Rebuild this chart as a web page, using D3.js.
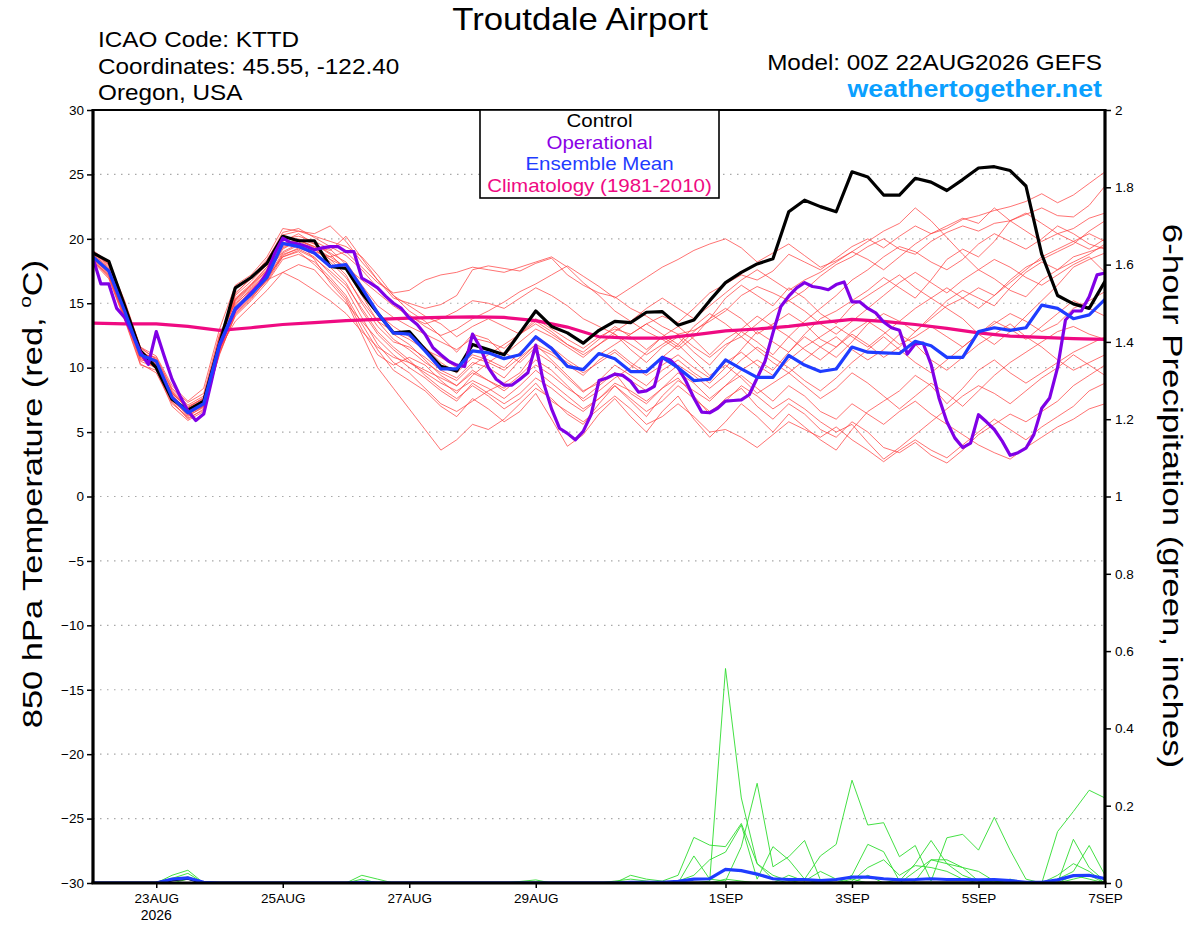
<!DOCTYPE html>
<html lang="en">
<head>
<meta charset="utf-8">
<script src="https://d3js.org/d3.v7.min.js"></script>
<style>
  body { margin: 0; background: #fff; }
  svg text { font-family: "Liberation Sans", Arial, sans-serif; }
  .tick text { font-size: 13.5px; fill: #000; }
  .tick line { stroke: #000; stroke-width: 1.5; }
</style>
</head>
<body>
<script>
// 6-hourly steps from 00Z 22AUG2026 (index 0) to 00Z 07SEP2026 (index 64)
const dateLabels = ["23AUG", "25AUG", "27AUG", "29AUG", "1SEP", "3SEP", "5SEP", "7SEP"];
const dateIndex = [4, 12, 20, 28, 40, 48, 56, 64];
const tempTicks = [-30, -25, -20, -15, -10, -5, 0, 5, 10, 15, 20, 25, 30];
const precipTicks = [0, 0.2, 0.4, 0.6, 0.8, 1, 1.2, 1.4, 1.6, 1.8, 2];

const control = [18.9, 18.25, 14.8, 11.3, 10.0, 7.55, 6.7, 7.4, 11.85, 16.2,
  17.0, 18.1, 20.2, 19.85, 19.85, 17.85, 17.7, 15.8, 14.25, 12.7,
  12.8, 11.4, 10.1, 9.75, 11.8, 11.4, 11.0, 12.7, 14.4, 13.2,
  12.7, 11.9, 12.9, 13.6, 13.5, 14.3, 14.35, 13.3, 13.7, 15.2,
  16.6, 17.4, 18.05, 18.45, 22.1, 23.0, 22.5, 22.1, 25.2, 24.8,
  23.4, 23.4, 24.7, 24.4, 23.75, 24.6, 25.5, 25.6, 25.3, 24.1,
  18.8, 15.6, 14.95, 14.6, 16.7];

const ensMean = [18.6, 17.5, 14.4, 11.0, 10.5, 7.7, 6.5, 7.2, 11.8, 14.6,
  15.7, 17.0, 19.65, 19.4, 18.9, 17.85, 18.0, 16.2, 14.25, 12.7,
  12.6, 11.3, 9.9, 9.9, 11.3, 11.15, 10.7, 11.0, 12.4, 11.5,
  10.1, 9.85, 11.1, 10.7, 9.7, 9.7, 10.8, 10.0, 9.0, 9.1,
  10.6, 9.9, 9.25, 9.25, 10.95, 10.2, 9.7, 9.9, 11.6, 11.2,
  11.15, 11.1, 12.05, 11.7, 10.8, 10.8, 12.8, 13.1, 12.9, 13.1,
  14.85, 14.6, 13.8, 14.1, 15.3];

// operational run is 3-hourly (129 values)
const operational = [18.5, 16.5, 16.5, 14.6, 13.9, 12.6, 11.2, 10.25, 12.8, 10.9,
  9.1, 7.8, 6.65, 5.9, 6.4, 9.0, 11.7, 13.1, 14.5, 15.15,
  15.8, 16.45, 17.35, 18.9, 20.05, 19.7, 19.6, 19.4, 19.15, 19.3,
  19.4, 19.4, 19.0, 19.0, 16.95, 16.6, 16.2, 15.55, 15.0, 14.6,
  13.85, 13.35, 12.6, 11.55, 11.0, 10.5, 10.2, 10.1, 12.6, 11.55,
  10.0, 9.1, 8.65, 8.65, 9.1, 9.6, 11.75, 8.8, 6.8, 5.3,
  4.9, 4.4, 5.05, 6.35, 9.0, 9.2, 9.5, 9.4, 8.95, 8.1,
  8.2, 8.55, 10.8, 10.6, 10.0, 8.95, 7.65, 6.55, 6.5, 6.85,
  7.4, 7.45, 7.5, 7.9, 9.2, 10.5, 12.7, 14.75, 15.55, 16.2,
  16.6, 16.3, 16.2, 16.05, 16.45, 16.65, 15.1, 15.1, 14.6, 14.25,
  13.55, 13.1, 12.9, 11.05, 11.85, 11.9, 10.25, 7.65, 5.8, 4.55,
  3.8, 4.15, 6.35, 5.8, 5.2, 4.3, 3.2, 3.4, 3.75, 4.8,
  6.85, 7.65, 10.0, 13.7, 14.4, 14.4, 15.5, 17.2, 17.35];

// climatology, 12-hourly (33 values)
const climatology = [13.45, 13.4, 13.4, 13.2, 12.9, 13.1, 13.35, 13.5, 13.65, 13.75,
  13.85, 13.9, 13.95, 13.9, 13.65, 13.15, 12.4, 12.3, 12.3, 12.55,
  12.85, 13.0, 13.2, 13.5, 13.75, 13.6, 13.35, 13.05, 12.7, 12.45,
  12.35, 12.25, 12.2];

const members = [
  [18.8, 17.8, 14.6, 11.2, 10.0, 7.9, 6.6, 7.0, 12.2, 15.4, 16.5, 17.8, 19.8, 20.4, 19.6, 18.9, 18.2, 16.4, 14.8, 13.9, 13.2, 12.6, 12.0, 11.4, 12.3, 12.0, 11.5, 12.6, 13.8, 13.0, 12.2, 11.5, 12.4, 13.0, 12.6, 13.4, 14.0, 13.5, 14.6, 15.8, 16.5, 17.2, 16.8, 17.5, 18.8, 18.2, 17.6, 18.5, 19.4, 20.0, 19.3, 20.2, 21.0, 20.4, 20.8, 21.5, 21.8, 22.2, 22.5, 22.9, 23.5, 22.8, 23.4, 24.3, 25.2],
  [18.5, 17.2, 14.0, 10.6, 10.4, 7.4, 6.0, 6.8, 11.4, 14.8, 15.9, 17.2, 19.2, 19.9, 19.4, 19.1, 20.2, 18.5, 16.8, 15.4, 15.0, 14.6, 14.9, 15.6, 17.6, 17.9, 17.7, 17.5, 18.1, 18.5, 17.2, 16.4, 15.8, 15.5, 14.6, 14.0, 13.2, 12.6, 12.9, 13.6, 14.4, 15.6, 16.3, 15.8, 15.2, 16.0, 17.1, 18.0, 18.6, 19.4, 20.0, 19.2, 18.8, 19.8, 20.5, 21.0, 20.6, 21.2, 21.4, 21.9, 22.4, 21.8, 21.7, 22.6, 24.1],
  [19.0, 18.0, 15.0, 11.4, 10.2, 8.1, 7.0, 7.6, 12.4, 15.8, 16.9, 18.3, 20.5, 20.8, 20.1, 19.4, 18.7, 17.6, 16.2, 15.0, 14.1, 13.2, 12.5, 13.0, 13.8, 14.4, 15.1, 15.9, 16.5, 17.2, 17.9, 17.1, 16.3, 15.4, 16.2, 17.0, 17.8, 18.4, 19.1, 19.6, 20.0, 19.3, 18.2, 18.9, 19.6, 18.7, 17.8, 18.3, 19.0, 19.8, 20.6, 21.2, 22.4, 21.4, 20.1, 18.8, 17.6, 16.9, 16.0, 15.5, 16.8, 17.6, 18.2, 18.8, 19.6],
  [18.3, 17.0, 13.8, 10.3, 9.6, 7.2, 6.2, 7.0, 11.0, 14.2, 15.4, 16.8, 18.8, 19.2, 18.6, 17.3, 16.1, 13.9, 11.8, 10.4, 9.6, 8.4, 7.2, 6.6, 7.4, 8.2, 8.8, 9.6, 11.2, 10.4, 9.2, 8.1, 9.0, 10.2, 9.4, 8.6, 9.8, 10.6, 9.6, 8.8, 10.0, 11.4, 12.8, 12.0, 11.2, 12.6, 13.8, 14.4, 15.2, 16.0, 17.0, 16.2, 15.4, 16.8, 18.4, 19.2, 18.6, 19.8, 21.4, 22.0, 21.2, 20.4, 19.8, 19.2, 20.0],
  [18.7, 17.6, 14.3, 11.1, 10.8, 8.4, 7.3, 8.0, 12.6, 15.0, 16.0, 17.4, 19.0, 19.6, 19.2, 18.4, 17.2, 15.0, 13.2, 12.0, 11.6, 10.8, 9.8, 9.2, 10.4, 10.0, 9.2, 10.6, 11.8, 10.6, 9.4, 8.2, 8.8, 9.6, 8.0, 7.2, 8.4, 9.2, 7.8, 6.4, 7.6, 8.4, 7.0, 6.0, 7.2, 6.4, 5.2, 4.6, 5.8, 5.0, 3.8, 3.4, 4.2, 3.2, 2.6, 3.6, 4.8, 5.6, 6.4, 5.8, 6.6, 7.4, 8.6, 9.4, 10.2],
  [18.9, 17.9, 14.9, 11.6, 10.6, 8.2, 6.8, 7.3, 11.9, 15.2, 16.3, 17.6, 19.4, 19.8, 18.4, 16.6, 15.2, 12.6, 10.0, 8.4, 6.8, 5.2, 3.6, 4.4, 5.6, 5.2, 6.0, 7.2, 8.4, 7.6, 6.4, 5.6, 7.2, 8.6, 7.4, 6.2, 7.8, 9.0, 8.2, 7.4, 8.6, 9.8, 10.6, 9.8, 11.2, 12.4, 11.6, 10.8, 12.0, 13.4, 14.2, 13.6, 12.8, 14.0, 15.2, 16.0, 15.4, 14.8, 16.2, 17.4, 18.2, 17.6, 18.6, 19.0, 19.4],
  [18.4, 17.4, 14.2, 10.8, 10.2, 7.6, 6.4, 7.1, 11.6, 14.6, 15.8, 17.0, 18.9, 19.5, 19.0, 18.6, 19.0, 17.8, 16.6, 15.8, 16.0, 16.8, 17.2, 17.4, 17.8, 17.6, 17.4, 17.8, 18.2, 18.6, 17.8, 16.6, 15.6, 14.4, 13.6, 12.8, 12.2, 11.4, 12.4, 13.8, 14.6, 13.8, 12.6, 13.4, 14.2, 13.4, 12.2, 11.6, 12.8, 13.6, 12.8, 11.8, 12.4, 13.2, 12.4, 11.6, 12.6, 13.4, 14.2, 13.6, 12.8, 13.4, 14.6, 15.2, 15.9],
  [18.6, 17.5, 14.5, 11.0, 10.1, 7.8, 6.7, 7.4, 12.0, 15.6, 16.7, 18.0, 20.0, 20.2, 19.8, 19.2, 18.0, 16.2, 14.2, 12.6, 11.8, 10.6, 9.4, 8.6, 9.8, 9.0, 8.4, 9.4, 10.6, 9.8, 8.6, 7.4, 8.2, 9.2, 10.0, 11.2, 12.4, 11.6, 12.8, 13.8, 15.4, 16.4, 15.6, 14.8, 16.2, 15.4, 14.2, 13.4, 14.8, 15.6, 16.4, 17.2, 16.2, 15.4, 14.6, 13.8, 12.6, 11.8, 12.8, 14.0, 15.2, 16.4, 17.8, 18.4, 18.9],
  [18.2, 16.9, 13.7, 10.2, 9.8, 7.0, 5.9, 6.6, 11.2, 14.0, 15.2, 16.6, 18.4, 18.8, 18.2, 17.0, 15.6, 13.4, 11.4, 9.8, 9.0, 8.2, 7.0, 6.2, 7.6, 6.8, 5.8, 6.6, 8.0, 6.0, 3.9, 4.8, 6.4, 7.6, 6.2, 5.0, 6.6, 7.8, 6.0, 4.6, 5.8, 7.2, 6.2, 5.0, 6.4, 5.4, 4.4, 3.6, 5.2, 6.6, 7.4, 8.2, 9.4, 8.6, 7.2, 8.4, 9.8, 10.6, 9.6, 8.8, 9.6, 10.4, 11.2, 11.8, 12.4],
  [19.1, 18.2, 15.2, 11.6, 10.9, 8.6, 7.4, 8.4, 13.0, 16.4, 17.2, 18.6, 20.8, 20.6, 20.2, 19.8, 19.4, 18.6, 17.2, 15.6, 14.4, 13.6, 12.4, 11.2, 12.6, 12.2, 11.0, 12.0, 13.0, 12.4, 11.6, 10.8, 11.8, 12.6, 11.4, 10.4, 11.6, 12.4, 11.2, 10.2, 11.6, 12.8, 12.0, 11.0, 12.4, 13.6, 14.6, 15.6, 16.8, 17.6, 18.6, 19.4, 19.0, 18.2, 17.6, 18.4, 19.6, 20.4, 19.8, 19.2, 20.0, 21.0, 20.4, 19.6, 19.2],
  [18.5, 17.3, 14.1, 10.9, 9.9, 7.5, 6.3, 6.9, 11.3, 14.4, 15.6, 17.0, 18.6, 19.0, 18.0, 16.8, 15.4, 13.0, 11.0, 10.2, 10.8, 10.2, 9.0, 8.0, 9.4, 10.4, 11.2, 10.4, 11.6, 11.0, 10.2, 9.4, 10.6, 11.4, 10.4, 9.6, 10.8, 11.8, 10.6, 9.4, 10.2, 9.2, 8.0, 8.8, 9.6, 8.6, 7.6, 8.4, 9.6, 8.8, 7.8, 6.8, 7.8, 8.8, 8.0, 7.0, 8.2, 9.4, 10.4, 11.2, 12.0, 12.8, 13.2, 12.6, 12.2],
  [18.8, 17.7, 14.7, 11.3, 10.5, 8.0, 6.9, 7.7, 12.3, 15.1, 16.2, 17.5, 19.6, 20.0, 19.6, 18.8, 17.6, 15.6, 13.6, 12.8, 12.2, 11.4, 10.8, 10.0, 11.0, 10.6, 10.0, 11.2, 12.2, 11.6, 10.6, 9.8, 11.0, 11.8, 12.6, 13.4, 12.6, 11.8, 13.2, 14.2, 13.4, 12.4, 11.4, 10.4, 9.6, 10.6, 11.6, 12.4, 11.4, 10.6, 11.4, 12.6, 11.8, 10.6, 9.8, 10.8, 11.8, 12.6, 13.4, 12.4, 11.6, 10.6, 9.8, 10.4, 11.0],
  [18.6, 17.4, 14.4, 11.0, 10.3, 7.7, 6.5, 7.3, 11.7, 14.9, 16.1, 17.3, 19.3, 19.8, 19.2, 18.2, 17.0, 15.2, 13.6, 12.2, 11.4, 10.4, 9.6, 9.0, 10.2, 11.0, 11.8, 12.6, 13.6, 12.8, 11.8, 11.0, 11.8, 12.8, 13.6, 14.6, 15.4, 14.6, 13.8, 14.8, 15.8, 16.8, 17.6, 16.8, 16.0, 16.8, 17.4, 18.2, 19.0, 18.4, 17.6, 18.6, 19.6, 20.4, 21.0, 21.6, 21.2, 22.4, 21.4, 20.6, 19.8, 20.4, 20.8, 21.6, 22.0],
  [18.4, 17.1, 13.9, 10.5, 10.0, 7.3, 6.1, 6.7, 11.1, 14.1, 15.3, 16.9, 18.7, 19.3, 18.8, 17.8, 16.6, 14.4, 12.6, 11.4, 10.4, 9.6, 8.8, 8.2, 9.0, 8.4, 7.6, 8.6, 9.8, 8.8, 7.8, 6.8, 7.6, 8.8, 8.2, 7.4, 8.4, 9.6, 8.8, 7.6, 8.6, 9.4, 8.4, 7.4, 8.6, 7.8, 6.6, 6.0, 7.2, 6.4, 5.6, 6.6, 7.4, 6.4, 5.6, 4.8, 4.0, 3.4, 2.9, 3.8, 4.6, 5.4, 6.0, 6.8, 7.2],
  [19.0, 18.1, 15.1, 11.5, 10.7, 8.3, 7.1, 7.8, 12.1, 14.6, 15.7, 16.8, 17.4, 18.0, 17.6, 16.2, 15.0, 13.6, 12.2, 11.0, 10.0, 9.2, 8.2, 7.4, 8.8, 8.0, 7.2, 8.0, 9.2, 8.4, 7.4, 6.6, 7.6, 8.6, 7.6, 6.6, 7.4, 8.6, 7.6, 6.6, 7.4, 8.6, 7.8, 6.8, 7.6, 6.8, 5.8, 5.0, 5.6, 4.2, 2.9, 3.8, 4.8, 5.8, 6.8, 7.8, 8.6, 8.0, 7.2, 8.2, 9.2, 10.0, 11.0, 10.2, 9.4],
  [18.9, 18.0, 14.8, 11.4, 10.4, 8.0, 6.9, 7.6, 12.0, 15.7, 17.0, 18.4, 20.3, 20.6, 20.4, 21.0, 19.8, 18.2, 16.8, 15.6, 14.8, 14.0, 13.4, 12.4, 13.2, 13.8, 13.2, 12.6, 13.4, 12.6, 11.8, 11.2, 12.2, 13.2, 12.4, 11.4, 12.4, 13.2, 12.2, 11.0, 12.2, 13.0, 14.0, 13.2, 12.4, 11.4, 10.6, 11.6, 12.6, 11.8, 10.8, 11.6, 12.8, 13.8, 14.8, 15.4, 16.2, 15.6, 16.8, 17.8, 18.4, 19.0, 19.6, 20.6, 21.4],
  [18.3, 17.1, 14.0, 10.7, 10.0, 7.5, 6.3, 7.2, 11.5, 13.6, 14.8, 16.0, 17.4, 16.8, 16.0, 15.2, 14.2, 12.8, 11.6, 10.8, 10.4, 9.8, 9.2, 8.6, 9.6, 9.0, 8.2, 9.2, 10.2, 9.4, 8.4, 7.6, 8.6, 9.6, 9.0, 8.2, 9.2, 10.2, 9.4, 8.4, 9.4, 10.6, 11.6, 10.8, 10.0, 9.0, 8.2, 9.2, 10.4, 11.4, 12.4, 11.4, 10.4, 9.6, 10.6, 11.6, 12.6, 13.6, 13.0, 12.2, 13.2, 14.2, 15.2, 14.6, 14.0],
  [18.7, 17.6, 14.6, 11.2, 10.6, 7.8, 6.6, 7.5, 12.4, 15.3, 16.4, 17.8, 19.6, 19.9, 19.4, 18.4, 17.8, 16.8, 15.8, 14.8, 14.0, 13.4, 13.8, 14.4, 15.2, 15.0, 14.6, 15.4, 16.2, 15.6, 14.8, 13.8, 13.2, 12.6, 11.8, 11.0, 11.8, 12.6, 11.6, 10.8, 11.8, 12.4, 13.4, 14.4, 15.2, 14.4, 13.4, 12.6, 13.6, 14.6, 15.6, 16.6, 17.4, 16.6, 15.8, 16.8, 17.6, 18.4, 17.8, 17.0, 16.4, 17.2, 18.0, 18.6, 17.4],
  [18.5, 17.4, 14.2, 10.8, 10.1, 7.6, 6.4, 7.0, 11.4, 14.3, 15.5, 16.7, 18.6, 19.1, 18.5, 17.5, 16.4, 14.6, 12.8, 11.6, 10.6, 9.4, 8.4, 7.6, 8.6, 7.8, 6.8, 7.6, 8.8, 7.4, 6.6, 5.8, 6.8, 7.8, 6.8, 5.6, 6.2, 7.2, 6.2, 5.0, 5.2, 4.6, 3.8, 4.8, 5.8, 5.2, 4.6, 5.4, 4.4, 3.6, 2.7, 3.6, 4.4, 3.6, 3.0, 4.0, 5.0, 6.0, 5.2, 4.4, 5.4, 6.2, 7.0, 8.2, 8.8],
  [18.6, 17.6, 14.5, 11.1, 10.4, 8.0, 6.8, 7.5, 12.1, 15.3, 16.4, 17.6, 19.5, 19.9, 19.3, 18.6, 17.8, 16.0, 14.2, 13.2, 12.4, 11.6, 10.4, 9.6, 10.8, 10.4, 9.8, 10.8, 11.8, 11.2, 10.4, 9.6, 10.4, 11.2, 10.2, 9.4, 10.2, 11.0, 10.0, 9.2, 10.4, 11.2, 10.2, 9.4, 10.6, 11.6, 12.4, 13.2, 12.4, 11.6, 12.6, 13.6, 14.6, 15.4, 16.2, 15.4, 14.6, 15.6, 16.6, 17.6, 18.6, 19.2, 19.8, 20.4, 19.8]
];

// 6-hour precipitation, inches
const precipMembers = [
  [0, 0, 0, 0, 0, 0.02, 0.033, 0, 0, 0, 0, 0, 0, 0, 0, 0, 0, 0, 0, 0, 0, 0, 0, 0, 0, 0, 0, 0, 0, 0, 0, 0, 0, 0.005, 0.01, 0.005, 0, 0, 0, 0.005, 0.555, 0.22, 0.05, 0.01, 0, 0, 0, 0, 0.01, 0, 0, 0, 0, 0, 0, 0, 0, 0, 0, 0, 0, 0, 0.01, 0.02, 0],
  [0, 0, 0, 0, 0, 0.012, 0.025, 0, 0, 0, 0, 0, 0, 0, 0, 0, 0, 0.02, 0.01, 0, 0, 0, 0, 0, 0, 0, 0, 0, 0, 0, 0, 0, 0, 0, 0.02, 0.01, 0.005, 0.02, 0.118, 0.098, 0.094, 0.154, 0.05, 0.02, 0.005, 0.01, 0, 0, 0.02, 0.1, 0.081, 0.005, 0.05, 0.11, 0.05, 0.04, 0.03, 0.005, 0, 0, 0, 0.02, 0.05, 0.03, 0],
  [0, 0, 0, 0, 0, 0.008, 0.015, 0, 0, 0, 0, 0, 0, 0, 0, 0, 0, 0.01, 0, 0, 0, 0, 0, 0, 0, 0, 0, 0, 0, 0, 0, 0, 0, 0, 0, 0, 0, 0, 0.07, 0.01, 0.005, 0.094, 0.258, 0.042, 0.068, 0.11, 0.008, 0, 0, 0.02, 0, 0, 0.03, 0.06, 0.06, 0.04, 0.005, 0, 0, 0, 0, 0, 0.113, 0.04, 0.005],
  [0, 0, 0, 0, 0, 0, 0.01, 0, 0, 0, 0, 0, 0, 0, 0, 0, 0, 0, 0, 0, 0, 0, 0, 0, 0, 0, 0, 0.004, 0.008, 0, 0, 0, 0, 0, 0, 0, 0, 0.005, 0.02, 0.06, 0.08, 0.15, 0.01, 0.094, 0.06, 0.01, 0, 0, 0.005, 0.04, 0.06, 0.02, 0.045, 0.04, 0.03, 0.01, 0, 0.005, 0, 0, 0, 0.01, 0.03, 0.097, 0.02],
  [0, 0, 0, 0, 0, 0, 0, 0, 0, 0, 0, 0, 0, 0, 0, 0, 0, 0, 0, 0, 0, 0, 0, 0, 0, 0, 0, 0, 0, 0, 0, 0, 0, 0, 0, 0, 0, 0, 0, 0, 0, 0, 0, 0, 0, 0.01, 0.07, 0.1, 0.266, 0.15, 0.156, 0.068, 0.097, 0.005, 0.117, 0.126, 0.085, 0.17, 0.085, 0.01, 0, 0.133, 0.185, 0.24, 0.22],
  [0, 0, 0, 0, 0, 0, 0, 0, 0, 0, 0, 0, 0, 0, 0, 0, 0, 0, 0, 0, 0, 0, 0, 0, 0, 0, 0, 0, 0, 0, 0, 0, 0, 0, 0, 0, 0, 0, 0, 0, 0.01, 0.005, 0, 0, 0.02, 0.005, 0.03, 0.01, 0, 0, 0, 0.01, 0.005, 0.06, 0.05, 0.02, 0.005, 0, 0.01, 0, 0, 0, 0.02, 0.01, 0]
];

const precipMean = [0, 0, 0, 0, 0, 0.01, 0.013, 0.002, 0, 0,
  0, 0, 0, 0, 0, 0, 0, 0.002, 0, 0,
  0, 0, 0, 0, 0, 0, 0, 0, 0, 0,
  0, 0, 0, 0, 0.002, 0.002, 0.002, 0.004, 0.01, 0.011,
  0.035, 0.032, 0.023, 0.011, 0.009, 0.009, 0.006, 0.009, 0.015, 0.015,
  0.011, 0.008, 0.009, 0.011, 0.009, 0.009, 0.008, 0.009, 0.006, 0.002,
  0.002, 0.008, 0.019, 0.02, 0.011];

const precipControl = [0, 0, 0, 0, 0, 0.008, 0.012, 0, 0, 0,
  0, 0, 0, 0, 0, 0, 0, 0, 0, 0,
  0, 0, 0, 0, 0, 0, 0, 0, 0, 0,
  0, 0, 0, 0, 0, 0, 0, 0, 0, 0,
  0, 0, 0, 0, 0, 0, 0, 0, 0, 0,
  0, 0, 0, 0, 0, 0, 0, 0, 0, 0,
  0, 0, 0, 0, 0];

const W = 1200, H = 927;
const plotL = 93, plotR = 1105, plotT = 110, plotB = 883;

const svg = d3.select("body").append("svg")
  .attr("width", W).attr("height", H);

// text drawn a little wider than the font, like the original plot's lettering
function wideText(x0, y0, txt, size, sx, anchor) {
  return svg.append("text")
    .attr("transform", `translate(${x0},${y0}) scale(${sx},1)`)
    .attr("text-anchor", anchor || "start")
    .attr("font-size", size)
    .text(txt);
}

const x = d3.scaleLinear().domain([0, 64]).range([plotL, plotR]);
const yT = d3.scaleLinear().domain([-30, 30]).range([plotB, plotT]);
const yP = d3.scaleLinear().domain([0, 2]).range([plotB, plotT]);

svg.append("clipPath").attr("id", "plot")
  .append("rect").attr("x", plotL).attr("y", plotT)
  .attr("width", plotR - plotL).attr("height", plotB - plotT);

// dotted grid
svg.append("g").selectAll("line")
  .data(tempTicks.filter(d => d > -30 && d < 30))
  .enter().append("line")
  .attr("x1", plotL).attr("x2", plotR)
  .attr("y1", d => yT(d)).attr("y2", d => yT(d))
  .attr("stroke", "#a8a8a8").attr("stroke-width", 1.2)
  .attr("stroke-dasharray", "1.5,5.5");

const plot = svg.append("g").attr("clip-path", "url(#plot)");

const tLine = d3.line().x((d, i) => x(i)).y(d => yT(d));
const pLine = d3.line().x((d, i) => x(i)).y(d => yP(d));

plot.selectAll(".member").data(members).enter().append("path")
  .attr("class", "member")
  .attr("d", tLine)
  .attr("fill", "none").attr("stroke", "#ff3c3c")
  .attr("stroke-width", 0.85).attr("stroke-opacity", 0.85);

plot.selectAll(".pmember").data(precipMembers).enter().append("path")
  .attr("class", "pmember")
  .attr("d", pLine)
  .attr("fill", "none").attr("stroke", "#2fdc2f")
  .attr("stroke-width", 0.9);

plot.append("path").datum(precipControl).attr("d", pLine)
  .attr("fill", "none").attr("stroke", "#000").attr("stroke-width", 3);
plot.append("path").datum(precipMean).attr("d", pLine)
  .attr("fill", "none").attr("stroke", "#1f3cff").attr("stroke-width", 3.2);

plot.append("path").datum(climatology)
  .attr("d", d3.line().x((d, i) => x(i * 2)).y(d => yT(d)))
  .attr("fill", "none").attr("stroke", "#ef0a82").attr("stroke-width", 3.2);

plot.append("path").datum(control).attr("d", tLine)
  .attr("fill", "none").attr("stroke", "#000").attr("stroke-width", 3.2)
  .attr("stroke-linejoin", "round");

plot.append("path").datum(operational)
  .attr("d", d3.line().x((d, i) => x(i / 2)).y(d => yT(d)))
  .attr("fill", "none").attr("stroke", "#8000e6").attr("stroke-width", 3.2)
  .attr("stroke-linejoin", "round");

plot.append("path").datum(ensMean).attr("d", tLine)
  .attr("fill", "none").attr("stroke", "#1f3cff").attr("stroke-width", 3.2)
  .attr("stroke-linejoin", "round");

// axes
const axL = svg.append("g").attr("transform", `translate(${plotL},0)`)
  .call(d3.axisLeft(yT).tickValues(tempTicks).tickSize(6).tickPadding(3));
const axR = svg.append("g").attr("transform", `translate(${plotR},0)`)
  .call(d3.axisRight(yP).tickValues(precipTicks).tickSize(6).tickPadding(4)
    .tickFormat(d => String(+d.toFixed(1))));
const axB = svg.append("g").attr("transform", `translate(0,${plotB})`)
  .call(d3.axisBottom(x).tickValues(dateIndex).tickSize(5).tickPadding(5)
    .tickFormat((d, i) => dateLabels[i]));
[axL, axR, axB].forEach(g => g.select(".domain").remove());
axB.selectAll("text").attr("font-size", 14);
svg.append("text").attr("x", x(4)).attr("y", 920)
  .attr("text-anchor", "middle").attr("font-size", 14).text("2026");

// frame
const frame = svg.append("g").attr("stroke", "#000").attr("fill", "none");
frame.append("line").attr("x1", plotL).attr("x2", plotR).attr("y1", plotT).attr("y2", plotT).attr("stroke-width", 2.2);
frame.append("line").attr("x1", plotL - 1.5).attr("x2", plotR + 1.5).attr("y1", plotB).attr("y2", plotB).attr("stroke-width", 3.2);
frame.append("line").attr("x1", plotL).attr("x2", plotL).attr("y1", plotT - 1).attr("y2", plotB).attr("stroke-width", 3.2);
frame.append("line").attr("x1", plotR).attr("x2", plotR).attr("y1", plotT - 1).attr("y2", plotB).attr("stroke-width", 3.2);

// legend
const legend = [
  { t: "Control", c: "#000" },
  { t: "Operational", c: "#8a00e6" },
  { t: "Ensemble Mean", c: "#1f3cff" },
  { t: "Climatology (1981-2010)", c: "#ef0a82" }
];
svg.append("rect").attr("x", 480).attr("y", plotT).attr("width", 239).attr("height", 88)
  .attr("fill", "#fff").attr("stroke", "#000").attr("stroke-width", 1.6);
legend.forEach((d, i) => {
  wideText(599.5, 127 + i * 21.5, d.t, 18, 1.14, "middle").attr("fill", d.c);
});

// header text
wideText(580, 29.5, "Troutdale Airport", 30.5, 1.14, "middle");
["ICAO Code: KTTD", "Coordinates: 45.55, -122.40", "Oregon, USA"].forEach((t, i) => {
  wideText(98, 47 + i * 26.5, t, 21.5, 1.13);
});
wideText(1102, 70, "Model: 00Z 22AUG2026 GEFS", 21.5, 1.13, "end");
wideText(1102, 97, "weathertogether.net", 23.5, 1.14, "end")
  .attr("font-weight", "bold").attr("fill", "#0aa0ff");

// axis titles
const lt = svg.append("text").attr("transform", "translate(42,494) rotate(-90) scale(1.23,1)")
  .attr("text-anchor", "middle").attr("font-size", 28);
lt.append("tspan").text("850 hPa Temperature (red, ");
lt.append("tspan").attr("font-size", 17).attr("dy", -11).text("o");
lt.append("tspan").attr("dy", 11).text("C)");

svg.append("text").attr("transform", "translate(1163,496) rotate(90) scale(1.245,1)")
  .attr("text-anchor", "middle").attr("font-size", 28)
  .text("6-hour Precipitation (green, inches)");
</script>
</body>
</html>
